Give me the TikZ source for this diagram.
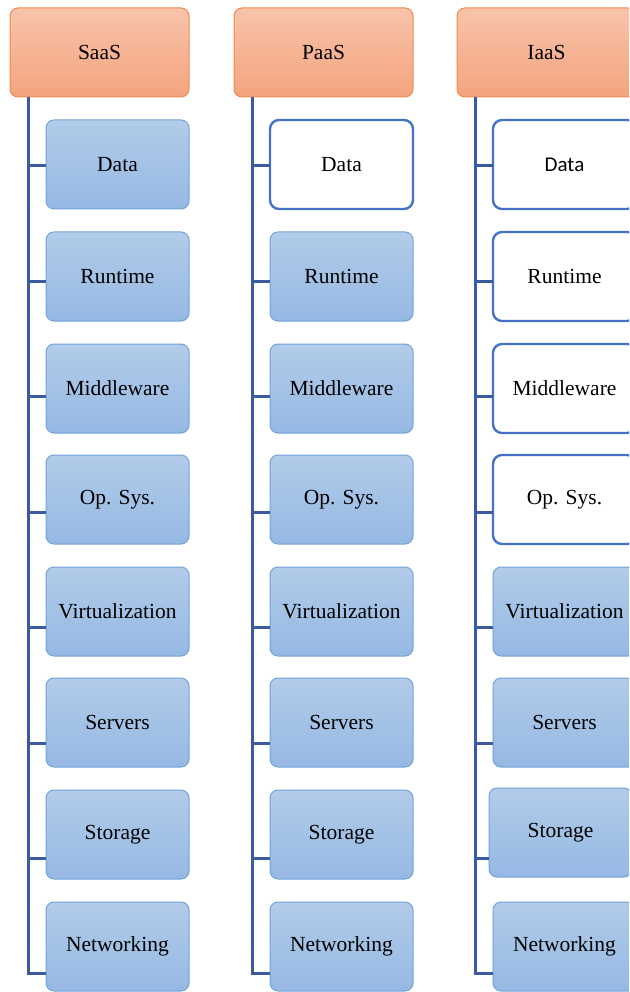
\documentclass[tikz,border=0pt]{standalone}
\usepackage{fontspec}
\setmainfont{Liberation Serif}
\newfontfamily\calib{Carlito}
\definecolor{headtop}{HTML}{F8C3AB}
\definecolor{headbot}{HTML}{F4A47E}
\definecolor{headline}{HTML}{EE8A50}
\definecolor{itemtop}{HTML}{B2CCE9}
\definecolor{itembot}{HTML}{95B8E3}
\definecolor{itemline}{HTML}{72A2D9}
\definecolor{blankline}{HTML}{4472C4}
\definecolor{connline}{HTML}{3A5BA0}
\tikzset{
  txt/.style={font=\fontsize{21.5}{25}\selectfont, text=black},
  headbox/.style={txt, rounded corners=8pt, draw=headline, line width=1pt,
    top color=headtop, bottom color=headbot, minimum width=179pt,
    minimum height=89pt, outer sep=0pt, anchor=north west},
  bluebox/.style={txt, rounded corners=8pt, draw=itemline, line width=1pt,
    top color=itemtop, bottom color=itembot, minimum width=143pt,
    minimum height=89pt, outer sep=0pt, anchor=north west},
  whitebox/.style={txt, rounded corners=9pt, draw=blankline, line width=2.4pt,
    fill=white, minimum width=143pt, minimum height=89pt, outer sep=0pt,
    anchor=north west},
  whiteboxsans/.style={whitebox, font=\calib\fontsize{21}{25}\selectfont},
  conn/.style={draw=connline, line width=3pt, line join=miter}
}
\begin{document}
\begin{tikzpicture}[x=1pt,y=-1pt]
\useasboundingbox (0,0) rectangle (629,992);
\clip (0,0) rectangle (629,992);

% ---------- SaaS ----------
\node[headbox] (sh) at (10,8) {SaaS};
\foreach \i/\lab/\sty/\top in {1/Data/bluebox/120, 2/Runtime/bluebox/232,
  3/Middleware/bluebox/344, 4/Op. Sys./bluebox/455, 5/Virtualization/bluebox/567,
  6/Servers/bluebox/678, 7/Storage/bluebox/790, 8/Networking/bluebox/902} {
  \node[\sty] (s\i) at (46,\top) {\lab};
  \coordinate (sc\i) at (28,{166+(\i-1)*115.4});
}
\foreach \i in {1,...,7} { \draw[conn] (sc\i) -- (sc\i -| s\i.west); }
\draw[conn] (sh.south -| sc8) -- (sc8) -- (sc8 -| s8.west);

% ---------- PaaS ----------
\node[headbox] (ph) at (234,8) {PaaS};
\foreach \i/\lab/\sty/\top in {1/Data/whitebox/120, 2/Runtime/bluebox/232,
  3/Middleware/bluebox/344, 4/Op. Sys./bluebox/455, 5/Virtualization/bluebox/567,
  6/Servers/bluebox/678, 7/Storage/bluebox/790, 8/Networking/bluebox/902} {
  \node[\sty] (p\i) at (270,\top) {\lab};
  \coordinate (pc\i) at (252.5,{166+(\i-1)*115.4});
}
\foreach \i in {1,...,7} { \draw[conn] (pc\i) -- (pc\i -| p\i.west); }
\draw[conn] (ph.south -| pc8) -- (pc8) -- (pc8 -| p8.west);

% ---------- IaaS ----------
\node[headbox] (ih) at (457,8) {IaaS};
\foreach \i/\lab/\sty/\x/\top in {1/Data/whiteboxsans/493/120, 2/Runtime/whitebox/493/232,
  3/Middleware/whitebox/493/344, 4/Op. Sys./whitebox/493/455, 5/Virtualization/bluebox/493/567,
  6/Servers/bluebox/493/678, 7/Storage/bluebox/489/788, 8/Networking/bluebox/493/902} {
  \node[\sty] (i\i) at (\x,\top) {\lab};
  \coordinate (ic\i) at (475,{166+(\i-1)*115.4});
}
\foreach \i in {1,...,7} { \draw[conn] (ic\i) -- (ic\i -| i\i.west); }
\draw[conn] (ih.south -| ic8) -- (ic8) -- (ic8 -| i8.west);
\end{tikzpicture}
\end{document}
